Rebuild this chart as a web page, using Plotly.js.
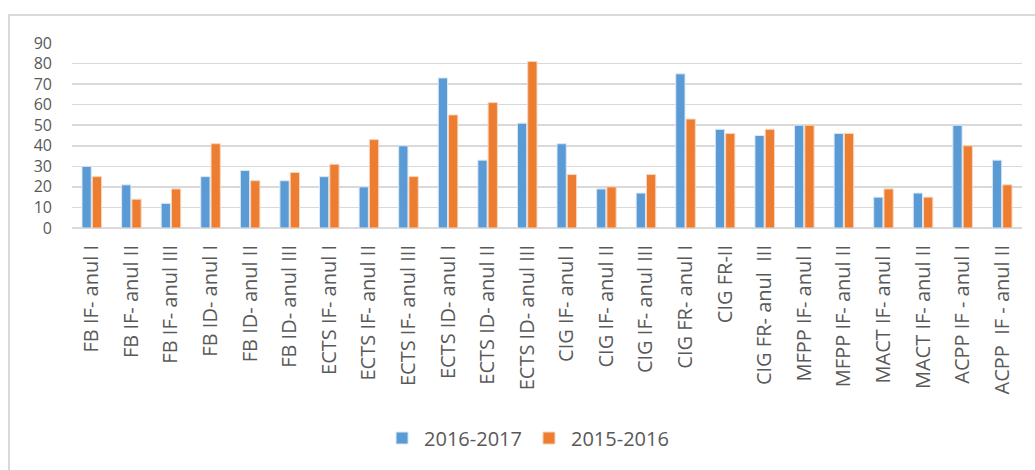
<!DOCTYPE html>
<html>
<head>
<meta charset="utf-8">
<script src="https://cdn.plot.ly/plotly-3.0.1.min.js"></script>
<style>
  html, body { margin: 0; padding: 0; background: #fff; }
  #chart { width: 1035px; height: 470px; }
  #frame { position: absolute; left: 8px; top: 14px; width: 1027px; height: 456px;
           border-left: 2px solid #d9d9d9; border-top: 2px solid #d9d9d9; box-sizing: border-box; pointer-events: none; }
</style>
</head>
<body>
<div id="chart"></div>
<div id="frame"></div>
<script>
const categories = [
  "FB IF- anul I", "FB IF- anul II", "FB IF- anul III",
  "FB ID- anul I", "FB ID- anul II", "FB ID- anul III",
  "ECTS IF- anul I", "ECTS IF- anul II", "ECTS IF- anul III",
  "ECTS ID- anul I", "ECTS ID- anul II", "ECTS ID- anul III",
  "CIG IF- anul I", "CIG IF- anul II", "CIG IF- anul III",
  "CIG FR- anul I", "CIG FR-II", "CIG FR- anul  III",
  "MFPP IF- anul I", "MFPP IF- anul II", "MACT IF- anul I",
  "MACT IF- anul II", "ACPP IF - anul I", "ACPP  IF - anul II"
];
const series2016_2017 = [30, 21, 12, 25, 28, 23, 25, 20, 40, 73, 33, 51, 41, 19, 17, 75, 48, 45, 50, 46, 15, 17, 50, 33];
const series2015_2016 = [25, 14, 19, 41, 23, 27, 31, 43, 25, 55, 61, 81, 26, 20, 26, 53, 46, 48, 50, 46, 19, 15, 40, 21];
const seriesNames = ["2016-2017", "2015-2016"];
const yTicks = [0, 10, 20, 30, 40, 50, 60, 70, 80, 90];

const font = "'Open Sans', 'Liberation Sans', sans-serif";
const traces = [
  { type: "bar", name: seriesNames[0], x: categories, y: series2016_2017,
    marker: { color: "#5B9BD5", line: { color: "#dbe8f5", width: 1 } } },
  { type: "bar", name: seriesNames[1], x: categories, y: series2015_2016,
    marker: { color: "#ED7D31", line: { color: "#f8d5bd", width: 1 } } }
];
const layout = {
  width: 1035, height: 470,
  margin: { l: 72, r: 13, t: 43, b: 242 },
  paper_bgcolor: "#fff", plot_bgcolor: "#fff",
  barmode: "group", bargap: 0.48, bargroupgap: 0.1,
  font: { family: font, color: "#595959" },
  showlegend: true,
  legend: { orientation: "h", x: 0.479, xanchor: "center", y: 0.068, yanchor: "middle", yref: "container",
            font: { size: 20, color: "#595959" }, itemwidth: 34, traceorder: "normal" },
  xaxis: { type: "category", tickangle: -90, tickfont: { size: 20, color: "#595959" },
           showgrid: false, showline: false, zeroline: false, ticks: "", ticklabelstandoff: 12 },
  yaxis: { range: [0, 90], tickvals: yTicks, ticktext: yTicks.map(String),
           tickfont: { size: 16, color: "#595959" }, showgrid: true, gridcolor: "#d9d9d9", gridwidth: 1.5,
           zeroline: true, zerolinecolor: "#d9d9d9", zerolinewidth: 1.5, showline: false, ticks: "",
           ticklabelstandoff: 19 }
};
Plotly.newPlot("chart", traces, layout, { displayModeBar: false, staticPlot: true });
</script>
</body>
</html>
